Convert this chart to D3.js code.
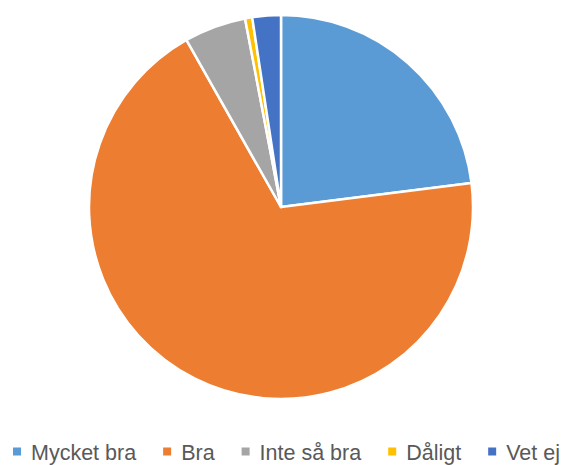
<!DOCTYPE html>
<html>
<head>
<meta charset="utf-8">
<script src="https://cdn.jsdelivr.net/npm/d3@7.9.0/dist/d3.min.js"></script>
<style>
  body { margin: 0; background: #fff; }
  svg { display: block; }
</style>
</head>
<body>
<svg width="566" height="465"></svg>
<script>
// answer categories and their share (%)
const categories = ['Mycket bra', 'Bra', 'Inte så bra', 'Dåligt', 'Vet ej'];
const values = [23.0, 68.8, 5.2, 0.6, 2.4];
const colorList = ['#5B9BD5', '#ED7D31', '#A5A5A5', '#FFC000', '#4472C4'];

const svg = d3.select('svg');
const cx = 281, cy = 207, radius = 192;

let colors = d3.scaleOrdinal().domain(categories).range(colorList);
let pie = d3.pie().sort(null).value((d) => d.value);
let arc = d3.arc().innerRadius(0).outerRadius(radius);

let data = categories.map((c, i) => ({ label: c, value: values[i] }));

svg.append('g')
  .attr('transform', `translate(${cx},${cy})`)
  .selectAll('path')
  .data(pie(data))
  .join('path')
  .attr('d', arc)
  .attr('fill', (d) => colors(d.data.label))
  .attr('stroke', '#fff')
  .attr('stroke-width', 2.5)
  .attr('stroke-linejoin', 'round');

// legend along the bottom
let legend = svg.append('g').attr('font-family', 'Liberation Sans, Arial, sans-serif')
  .attr('font-size', 21.5).attr('fill', '#595959');
const gap = 27, sw = 8, pad = 10;
let x = 13;
data.forEach((d) => {
  let g = legend.append('g').attr('transform', `translate(${x},460)`);
  g.append('rect').attr('x', 0).attr('y', -12.5).attr('width', sw).attr('height', sw)
    .attr('fill', colors(d.label));
  let t = g.append('text').attr('x', sw + pad).attr('y', 0).text(d.label);
  x += sw + pad + t.node().getComputedTextLength() + gap;
});
</script>
</body>
</html>
